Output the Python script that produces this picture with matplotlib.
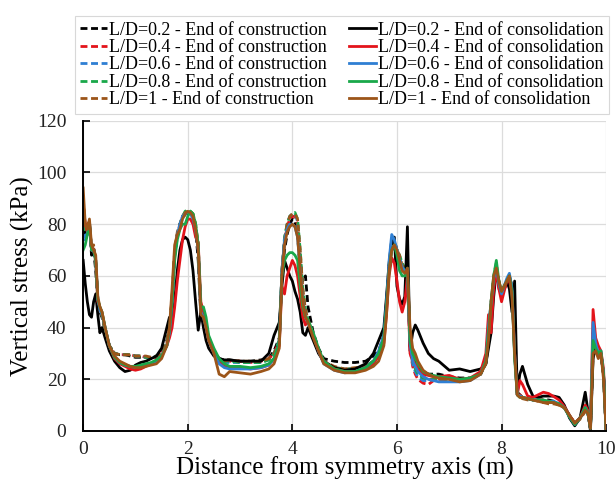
import numpy as np
import matplotlib.pyplot as plt

plt.rcParams['font.family'] = ['Liberation Serif', 'DejaVu Serif']

# distance from symmetry axis (m), shared by all curves
x = [0, 0.04, 0.08, 0.12, 0.16, 0.2, 0.24, 0.28, 0.32, 0.36,
     0.42, 0.5, 0.6, 0.7, 0.8, 0.9, 1.0, 1.1, 1.2, 1.3,
     1.4, 1.5, 1.6, 1.65, 1.7, 1.75, 1.8, 1.85, 1.9, 1.95,
     2.0, 2.05, 2.1, 2.15, 2.2, 2.25, 2.3, 2.35, 2.4, 2.5,
     2.6, 2.7, 2.8, 3.0, 3.2, 3.4, 3.55, 3.65, 3.75, 3.8,
     3.85, 3.9, 3.95, 4.0, 4.05, 4.1, 4.15, 4.2, 4.25, 4.3,
     4.4, 4.5, 4.6, 4.8, 5.0, 5.2, 5.4, 5.55, 5.65, 5.75,
     5.8, 5.85, 5.9, 5.95, 6.0, 6.05, 6.1, 6.15, 6.2, 6.25,
     6.3, 6.35, 6.4, 6.5, 6.6, 6.7, 6.8, 7.0, 7.2, 7.4,
     7.6, 7.7, 7.75, 7.8, 7.85, 7.9, 7.95, 8.0, 8.05, 8.1,
     8.15, 8.2, 8.25, 8.3, 8.35, 8.4, 8.5, 8.6, 8.7, 8.8,
     8.9, 9.0, 9.1, 9.2, 9.3, 9.4, 9.5, 9.6, 9.65, 9.7,
     9.75, 9.8, 9.85, 9.9, 9.95, 10.0]

# end of construction (dashed)
d02 = [82, 76, 78, 80, 68, 70, 62, 50, 46, 44,
       39, 33, 30, 29.5, 29.5, 29, 28.5, 28.5, 28.5, 28,
       28.5, 30, 35, 40, 50, 68, 75, 80, 82, 84,
       84, 84, 83, 78, 66, 44, 44, 40, 35, 31,
       28, 27.5, 27.5, 27, 27, 27.5, 28, 31, 36, 60,
       70, 76, 80, 82, 81, 76, 62, 58, 60, 48,
       38, 32, 28, 27, 26.5, 26.5, 27, 29, 31, 37,
       50, 64, 72, 74, 70, 66, 63, 62, 60, 36,
       30, 28, 25, 23, 22, 22, 22, 21, 20.5, 20.5,
       22, 26, 34, 48, 58, 63, 57, 53, 55, 58,
       60, 56, 34, 15, 14, 13, 12.5, 12.5, 12, 12,
       12, 11.5, 10.5, 9.5, 6, 3, 5, 9, 7, 1,
       32, 33, 30, 30, 22, 0]
d04 = [86, 78, 78, 81, 70, 71, 65, 51, 47, 45,
       39, 33, 30, 29.5, 29.5, 29.5, 29, 29, 28.5, 28.5,
       28.5, 30, 34, 40, 51, 69, 76, 80, 83, 84,
       84.5, 84.5, 83, 79, 70, 46, 45, 41, 36, 31,
       27.5, 27, 27, 27, 26.5, 27, 28, 30, 35, 61,
       73, 79, 82, 83, 83, 80, 67, 52, 45, 42,
       37, 31, 26.5, 24.5, 24, 24, 25, 27, 29, 35,
       47, 63, 70, 71, 69, 66, 63, 62, 58, 32,
       25, 22, 20, 18.5, 18, 19.5, 20, 20, 19.5, 20,
       22, 27, 40, 48, 57, 61, 55, 52, 55, 57,
       59, 55, 32, 14, 14, 13, 12.5, 12.5, 12, 12,
       11.5, 11, 10.5, 9, 6, 3, 5, 8, 7, 1,
       38, 32, 29, 30, 22, 0]
d06 = [76, 75, 77, 81, 70, 71, 65, 51, 47, 45,
       39, 33, 30, 29.5, 29.5, 29.5, 29, 29, 28.5, 28.5,
       29, 30, 34, 39, 51, 69, 76, 80, 83, 84.5,
       85, 85, 83, 79, 71, 46, 45, 41, 36, 31,
       27, 26.5, 26.5, 26.5, 26.5, 26.5, 27.5, 30, 35, 61,
       74, 80, 83, 84, 84, 81, 68, 53, 46, 42,
       37, 31, 26.5, 24.5, 24, 24, 25, 27, 29, 36,
       48, 64, 71, 72, 70, 67, 64, 62, 59, 33,
       26, 23, 21, 19.5, 19.5, 20, 20, 20, 19.5, 20,
       22, 27, 39, 49, 58, 62, 56, 52, 55, 58,
       60, 55, 32, 14, 13.5, 13, 12.5, 12, 12, 11.5,
       11, 11, 10.5, 9, 6, 3, 5, 8, 7, 1,
       36, 32, 29, 30, 22, 0]
d08 = [80, 77, 79, 81, 70, 71, 65, 51, 47, 45,
       39, 33, 30, 29.5, 29.5, 29.5, 29, 29, 28.5, 28.5,
       29, 30, 34, 40, 51, 69, 76, 80, 83, 85,
       85.5, 85, 84, 80, 72, 47, 46, 42, 36, 31,
       27.5, 27, 27, 26.5, 26.5, 26.5, 27.5, 30, 35, 62,
       75, 80, 83, 84, 84.5, 82, 70, 55, 47, 43,
       37, 31, 26.5, 24.5, 24, 24, 25, 27, 29, 36,
       48, 64, 71, 72, 70, 68, 65, 63, 60, 35,
       27, 24, 22, 20.5, 20, 20, 20, 20, 19.5, 20,
       22, 27, 38, 50, 60, 65, 57, 53, 56, 58,
       60, 55, 31, 14, 13.5, 13, 12.5, 12, 12, 11.5,
       11, 11, 10.5, 9, 6, 3, 5, 8, 7, 1,
       33, 32, 29, 30, 22, 0]
d10 = [90, 79, 80, 81, 70, 72, 66, 50, 47, 45,
       39, 33, 30, 29.5, 29.5, 29.5, 29, 29, 29, 28.5,
       29, 30, 34, 40, 52, 70, 77, 80, 83, 84.5,
       85, 85, 84, 80, 72, 46, 45, 41, 36, 31,
       27, 27, 27.5, 27, 27, 27, 28, 30, 34, 62,
       74, 80, 83, 84, 84, 82, 70, 55, 47, 43,
       36, 31, 27, 25, 24, 24.5, 25, 27, 29, 36,
       48, 64, 70, 71, 70, 68, 64, 63, 62, 38,
       30, 27, 24, 21, 20, 19.5, 19.5, 19.5, 19, 20,
       22, 27, 38, 50, 58, 62, 56, 52, 55, 57,
       59, 55, 32, 14, 13, 12.5, 12, 12, 11.5, 11,
       10.5, 10.5, 10, 9, 6, 3, 4.5, 7.5, 7, 1,
       29, 31, 29, 30, 22, 0]

# end of consolidation (solid)
c02 = [66, 57, 50, 45, 44, 50, 53, 45, 38, 40,
       36, 31, 27, 24.5, 23, 23.5, 25.5, 26.5, 27, 28,
       29, 32, 40, 44, 42, 50, 62, 70, 74, 75,
       74, 70, 62, 50, 39, 46, 40, 35, 32, 29,
       28, 27.5, 27.5, 27, 27, 27, 30, 37, 42, 56,
       66, 63, 60, 58, 54, 51, 46, 38, 37, 40,
       35, 30, 27, 24.5, 23.5, 24, 26, 30, 35, 40,
       52, 65, 74, 75, 56, 51, 49, 52, 79, 31,
       38, 41, 39, 34, 30, 28, 27, 23.5, 24, 23,
       24, 26, 32, 38, 52, 62, 58, 53, 56, 58,
       55, 46, 58, 15, 22, 25, 18, 13.5, 13, 13.5,
       13.5, 13.5, 13, 10, 5, 2, 5, 15, 8, 0,
       28, 33, 30, 30, 22, 0]
c04 = [88, 80, 77, 80, 70, 70, 66, 50, 48, 46,
       40, 33, 28, 26, 25, 24, 23.5, 24, 25, 26,
       27, 29, 33, 36, 40, 48, 58, 66, 74, 79,
       82, 82, 80, 75, 73, 50, 46, 40, 35, 31,
       27, 25, 24.5, 24.5, 24, 24.5, 25.5, 28, 33, 56,
       53, 60, 63, 66, 64, 60, 52, 44, 41, 43,
       37, 31, 27, 24, 23, 23, 24, 26, 29, 34,
       45, 60, 67, 65, 58, 50, 46, 50, 60, 30,
       27, 26, 24, 22, 21.5, 21, 21, 21.5, 20, 20.5,
       23, 30, 45, 38, 55, 62, 55, 50, 54, 58,
       58, 54, 30, 14, 19.5, 18, 13.5, 13, 14, 15,
       14.5, 13.3, 12, 9.5, 6, 3, 5, 10, 8, 1,
       47, 36, 33, 31, 24, 0]
c06 = [74, 74, 76, 80, 70, 70, 66, 51, 47, 45,
       40, 33, 28.5, 26.5, 25.5, 25, 24.5, 25, 25.5, 26,
       27, 29, 33, 38, 50, 68, 76, 80, 83, 84,
       84.5, 84, 82, 78, 70, 46, 44, 40, 35, 30,
       26, 24.5, 24, 24, 24, 24.5, 25.5, 28, 34, 62,
       74, 78, 80, 80, 79, 75, 62, 50, 44, 42,
       37, 31, 26, 23.5, 22.5, 23, 24.5, 27, 31, 37,
       50, 66, 76, 74, 70, 66, 63.5, 62, 62, 34,
       27, 25, 23, 21, 20, 19.5, 19, 19, 19, 19.5,
       22, 27, 40, 50, 59, 63, 57, 53, 56, 59,
       61, 55, 30, 14, 13.5, 13, 12.5, 12, 12, 11.5,
       11.5, 11.5, 10.5, 9, 5.5, 2.5, 5, 9, 7, 1,
       42, 34, 30, 31, 22, 0]
c08 = [70, 72, 76, 80, 70, 70, 66, 51, 48, 46,
       40, 33, 28.5, 26.5, 25.5, 25, 25, 25.5, 26, 26.5,
       27.5, 29, 33, 39, 50, 66, 74, 78, 80, 80,
       83, 85, 84, 80, 72, 48, 48, 44, 37, 32,
       28, 26, 25, 25, 24.5, 25, 26, 28, 34, 60,
       66, 68, 69, 69, 68, 66, 56, 48, 44, 43,
       38, 32, 27, 24, 23, 23, 24.5, 27, 30, 36,
       48, 62, 70, 72, 68, 62, 60, 60, 63, 35,
       30, 28, 26, 23, 22, 21.5, 21, 20.5, 20, 20.5,
       22, 27, 38, 50, 60, 66, 58, 54, 56, 58,
       60, 54, 28, 14, 13, 13, 12.5, 12, 12, 12,
       11.5, 11, 10.5, 9, 5.5, 2.5, 5, 9, 7, 1,
       35, 32, 30, 31, 22, 0]
c10 = [94, 80, 78, 82, 72, 70, 68, 52, 48, 46,
       40, 33, 29, 27, 26, 25, 24.5, 24.5, 25, 25.5,
       26, 28, 33, 40, 55, 72, 76, 78, 82, 84,
       85, 84.5, 83, 78, 70, 45, 44, 40, 35, 30,
       22, 21, 23, 22.5, 22, 23, 24, 26, 32, 60,
       72, 77, 79, 80, 79, 75, 62, 50, 44, 42,
       36, 31, 26, 23.5, 22.5, 22.5, 23.5, 25, 27, 33,
       45, 62, 70, 72, 70, 66, 62, 61, 63, 40,
       32, 30, 27, 23.5, 22, 21, 20.5, 20, 19, 19.5,
       22, 26, 35, 50, 60, 63, 58, 54, 56, 58,
       60, 52, 30, 14, 13, 13, 12.5, 12, 11.5, 11,
       11, 11, 10, 9, 6, 3, 5, 8, 7, 1,
       30, 31, 28, 30, 20, 0]

ratios = ['0.2', '0.4', '0.6', '0.8', '1']
colors = ['black', '#e3141b', '#2f7fd3', '#19a84a', '#9c5519']
construction = [d02, d04, d06, d08, d10]
consolidation = [c02, c04, c06, c08, c10]

fig = plt.figure(figsize=(6.16, 4.87), dpi=100)
ax = fig.add_axes([0.135, 0.115, 0.849, 0.637])

for r, col, y in zip(ratios, colors, construction):
    ax.plot(x, y, color=col, lw=2.0, ls=(0, (2.5, 1.3)),
            label='L/D=' + r + ' - End of construction')
for r, col, y in zip(ratios, colors, consolidation):
    ax.plot(x, y, color=col, lw=2.0,
            label='L/D=' + r + ' - End of consolidation')

ax.set_xlim(0, 10)
ax.set_ylim(0, 120)
ax.set_xticks(np.arange(0, 11, 2))
ax.set_yticks(np.arange(0, 121, 20))
ax.grid(True, color='#dcdcdc', lw=0.9)
ax.set_axisbelow(True)
ax.spines['top'].set_visible(False)
ax.spines['right'].set_visible(False)
ax.spines['left'].set_linewidth(1.4)
ax.spines['bottom'].set_linewidth(1.4)
ax.tick_params(direction='in', length=5, width=1.2, labelsize=14,
               labelcolor='#222222')
ax.tick_params(axis='y', pad=12)
ax.tick_params(axis='x', pad=7)
ax.set_xlabel('Distance from symmetry axis (m)', fontsize=18, labelpad=-1)
ax.set_ylabel('Vertical stress (kPa)', fontsize=18, labelpad=2)

leg = fig.legend(loc='upper center', bbox_to_anchor=(0.555, 0.985), ncol=2,
                 fontsize=13, handlelength=1.5, handletextpad=0.12,
                 labelspacing=0.02, columnspacing=1.2, borderpad=0.3,
                 fancybox=False, edgecolor='#cfcfcf')
leg.get_frame().set_linewidth(0.8)

plt.savefig('out.png', dpi=100)
